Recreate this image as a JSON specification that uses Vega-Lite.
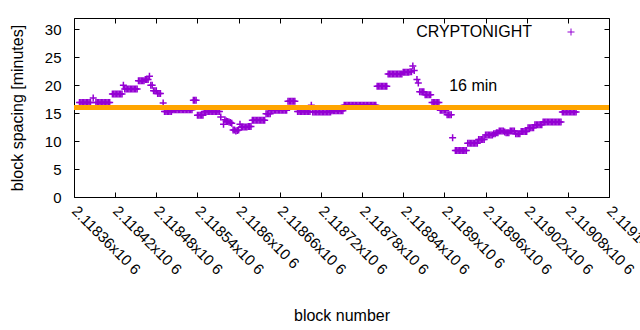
{
 "$schema": "https://vega.github.io/schema/vega-lite/v6.json",
 "width": 535,
 "height": 179,
 "autosize": "none",
 "padding": {"left": 74, "top": 18, "right": 31, "bottom": 133},
 "background": "white",
 "config": {
  "view": {"stroke": "black", "strokeWidth": 1},
  "font": "Liberation Sans",
  "axis": {"labelFontSize": 15, "titleFontSize": 16, "labelColor": "black", "titleColor": "black", "titleFontWeight": "normal", "tickColor": "black", "domain": false, "grid": false, "tickWidth": 1}
 },
 "layer": [
  {
   "data": {"values": [
    {"b":2118368,"s":16.9},{"b":2118370,"s":16.9},{"b":2118372,"s":16.9},{"b":2118374,"s":16.9},{"b":2118376,"s":16.9},{"b":2118378,"s":16.9},{"b":2118380,"s":16.9},{"b":2118382,"s":16.9},{"b":2118384,"s":16.9},
    {"b":2118388,"s":17.7},
    {"b":2118392,"s":16.9},{"b":2118394,"s":16.9},{"b":2118396,"s":16.9},{"b":2118398,"s":16.9},{"b":2118400,"s":16.9},{"b":2118402,"s":16.9},{"b":2118404,"s":16.9},{"b":2118406,"s":16.9},{"b":2118408,"s":16.9},{"b":2118410,"s":16.9},{"b":2118412,"s":16.9},
    {"b":2118416,"s":18.4},{"b":2118418,"s":18.4},{"b":2118420,"s":18.4},{"b":2118422,"s":18.4},{"b":2118424,"s":18.4},{"b":2118426,"s":18.4},{"b":2118428,"s":18.4},{"b":2118430,"s":18.4},
    {"b":2118432,"s":20.0},
    {"b":2118434,"s":19.3},{"b":2118436,"s":19.3},{"b":2118438,"s":19.3},{"b":2118440,"s":19.3},{"b":2118442,"s":19.3},{"b":2118444,"s":19.3},{"b":2118446,"s":19.3},{"b":2118448,"s":19.3},{"b":2118450,"s":19.3},{"b":2118452,"s":19.3},
    {"b":2118454,"s":20.8},{"b":2118456,"s":20.8},{"b":2118458,"s":20.8},{"b":2118460,"s":20.8},{"b":2118462,"s":20.8},
    {"b":2118464,"s":21.0},{"b":2118466,"s":21.0},{"b":2118468,"s":21.0},
    {"b":2118470,"s":21.6},
    {"b":2118472,"s":20.0},{"b":2118474,"s":20.0},
    {"b":2118476,"s":19.0},{"b":2118478,"s":19.0},{"b":2118480,"s":19.0},
    {"b":2118482,"s":18.5},{"b":2118484,"s":18.5},{"b":2118486,"s":18.5},
    {"b":2118490,"s":16.8},
    {"b":2118492,"s":15.3},{"b":2118494,"s":15.3},{"b":2118496,"s":15.3},{"b":2118498,"s":15.3},{"b":2118500,"s":15.3},{"b":2118502,"s":15.3},
    {"b":2118504,"s":15.6},{"b":2118506,"s":15.6},{"b":2118508,"s":15.6},{"b":2118510,"s":15.6},{"b":2118512,"s":15.6},{"b":2118514,"s":15.6},{"b":2118516,"s":15.6},{"b":2118518,"s":15.6},{"b":2118520,"s":15.6},{"b":2118522,"s":15.6},{"b":2118524,"s":15.6},{"b":2118526,"s":15.6},{"b":2118528,"s":15.6},{"b":2118530,"s":15.6},{"b":2118532,"s":15.6},
    {"b":2118534,"s":17.3},{"b":2118536,"s":17.3},{"b":2118538,"s":17.3},
    {"b":2118540,"s":14.6},{"b":2118542,"s":14.6},{"b":2118544,"s":14.6},{"b":2118546,"s":14.6},{"b":2118548,"s":14.6},
    {"b":2118550,"s":15.3},{"b":2118552,"s":15.3},{"b":2118554,"s":15.3},{"b":2118556,"s":15.3},{"b":2118558,"s":15.3},{"b":2118560,"s":15.3},{"b":2118562,"s":15.3},{"b":2118564,"s":15.3},{"b":2118566,"s":15.3},{"b":2118568,"s":15.3},{"b":2118570,"s":15.3},{"b":2118572,"s":15.3},
    {"b":2118574,"s":14.3},
    {"b":2118578,"s":13.0},
    {"b":2118580,"s":13.8},{"b":2118582,"s":13.6},{"b":2118584,"s":13.5},{"b":2118586,"s":13.4},{"b":2118588,"s":13.3},{"b":2118590,"s":13.2},
    {"b":2118592,"s":12.0},{"b":2118594,"s":12.0},{"b":2118596,"s":11.8},{"b":2118598,"s":11.9},{"b":2118600,"s":12.0},
    {"b":2118602,"s":13.0},
    {"b":2118604,"s":12.5},{"b":2118606,"s":12.5},{"b":2118608,"s":12.5},{"b":2118610,"s":12.5},{"b":2118612,"s":12.5},{"b":2118614,"s":12.6},{"b":2118616,"s":12.6},{"b":2118618,"s":12.6},
    {"b":2118620,"s":13.7},{"b":2118622,"s":13.7},{"b":2118624,"s":13.7},{"b":2118626,"s":13.7},{"b":2118628,"s":13.7},{"b":2118630,"s":13.7},{"b":2118632,"s":13.7},{"b":2118634,"s":13.7},{"b":2118636,"s":13.7},{"b":2118638,"s":13.7},
    {"b":2118640,"s":14.9},{"b":2118642,"s":14.9},{"b":2118644,"s":14.9},{"b":2118646,"s":14.9},
    {"b":2118648,"s":15.5},{"b":2118650,"s":15.5},{"b":2118652,"s":15.5},{"b":2118654,"s":15.5},{"b":2118656,"s":15.5},{"b":2118658,"s":15.5},{"b":2118660,"s":15.5},{"b":2118662,"s":15.5},{"b":2118664,"s":15.5},{"b":2118666,"s":15.5},{"b":2118668,"s":15.5},{"b":2118670,"s":15.5},
    {"b":2118672,"s":17.1},{"b":2118674,"s":17.1},{"b":2118676,"s":17.1},{"b":2118678,"s":17.1},{"b":2118680,"s":17.1},{"b":2118682,"s":17.1},
    {"b":2118686,"s":15.3},{"b":2118688,"s":15.3},{"b":2118690,"s":15.3},{"b":2118692,"s":15.3},{"b":2118694,"s":15.3},{"b":2118696,"s":15.3},{"b":2118698,"s":15.3},{"b":2118700,"s":15.3},{"b":2118702,"s":15.3},{"b":2118704,"s":15.3},
    {"b":2118706,"s":16.4},
    {"b":2118708,"s":15.2},{"b":2118710,"s":15.2},{"b":2118712,"s":15.2},{"b":2118714,"s":15.2},{"b":2118716,"s":15.2},{"b":2118718,"s":15.2},{"b":2118720,"s":15.2},{"b":2118722,"s":15.2},{"b":2118724,"s":15.2},{"b":2118726,"s":15.2},{"b":2118728,"s":15.2},{"b":2118730,"s":15.2},{"b":2118732,"s":15.2},{"b":2118734,"s":15.2},
    {"b":2118736,"s":15.4},{"b":2118738,"s":15.4},{"b":2118740,"s":15.4},{"b":2118742,"s":15.4},{"b":2118744,"s":15.4},{"b":2118746,"s":15.4},{"b":2118748,"s":15.4},{"b":2118750,"s":15.4},{"b":2118752,"s":15.4},
    {"b":2118754,"s":16.4},{"b":2118756,"s":16.4},{"b":2118758,"s":16.4},{"b":2118760,"s":16.4},{"b":2118762,"s":16.4},{"b":2118764,"s":16.4},{"b":2118766,"s":16.4},{"b":2118768,"s":16.4},{"b":2118770,"s":16.4},{"b":2118772,"s":16.4},{"b":2118774,"s":16.4},{"b":2118776,"s":16.4},{"b":2118778,"s":16.4},{"b":2118780,"s":16.4},{"b":2118782,"s":16.4},{"b":2118784,"s":16.4},{"b":2118786,"s":16.4},{"b":2118788,"s":16.4},{"b":2118790,"s":16.4},{"b":2118792,"s":16.4},{"b":2118794,"s":16.4},{"b":2118796,"s":16.4},{"b":2118798,"s":16.4},{"b":2118800,"s":16.4},
    {"b":2118802,"s":19.8},{"b":2118804,"s":19.8},{"b":2118806,"s":19.8},{"b":2118808,"s":19.8},{"b":2118810,"s":19.8},{"b":2118812,"s":19.8},{"b":2118814,"s":19.8},{"b":2118816,"s":19.8},
    {"b":2118818,"s":22.0},{"b":2118820,"s":22.0},{"b":2118822,"s":22.0},{"b":2118824,"s":22.0},{"b":2118826,"s":22.0},{"b":2118828,"s":22.0},{"b":2118830,"s":22.0},{"b":2118832,"s":22.0},{"b":2118834,"s":22.0},{"b":2118836,"s":22.0},{"b":2118838,"s":22.0},
    {"b":2118840,"s":22.3},{"b":2118842,"s":22.3},{"b":2118844,"s":22.3},{"b":2118846,"s":22.3},{"b":2118848,"s":22.3},{"b":2118850,"s":22.4},{"b":2118852,"s":22.4},
    {"b":2118854,"s":23.4},
    {"b":2118856,"s":22.6},
    {"b":2118860,"s":21.0},
    {"b":2118862,"s":20.4},
    {"b":2118864,"s":18.8},{"b":2118866,"s":18.8},{"b":2118868,"s":18.8},{"b":2118870,"s":18.8},
    {"b":2118872,"s":18.3},{"b":2118874,"s":18.3},{"b":2118876,"s":18.3},{"b":2118878,"s":18.3},{"b":2118880,"s":18.3},
    {"b":2118882,"s":16.9},{"b":2118884,"s":16.9},{"b":2118886,"s":16.9},{"b":2118888,"s":16.9},{"b":2118890,"s":16.9},{"b":2118892,"s":16.9},
    {"b":2118894,"s":15.5},{"b":2118896,"s":15.5},{"b":2118898,"s":15.5},{"b":2118900,"s":15.5},{"b":2118902,"s":15.5},
    {"b":2118904,"s":14.7},{"b":2118906,"s":14.7},{"b":2118908,"s":14.7},{"b":2118910,"s":14.7},
    {"b":2118912,"s":10.6},
    {"b":2118916,"s":8.3},{"b":2118918,"s":8.3},{"b":2118920,"s":8.3},{"b":2118922,"s":8.3},{"b":2118924,"s":8.3},{"b":2118926,"s":8.3},{"b":2118928,"s":8.3},{"b":2118930,"s":8.3},{"b":2118932,"s":8.3},
    {"b":2118934,"s":9.6},{"b":2118936,"s":9.6},{"b":2118938,"s":9.6},{"b":2118940,"s":9.6},{"b":2118942,"s":9.6},{"b":2118944,"s":9.6},{"b":2118946,"s":9.6},{"b":2118948,"s":9.6},
    {"b":2118950,"s":10.3},{"b":2118952,"s":10.3},{"b":2118954,"s":10.3},{"b":2118956,"s":10.3},{"b":2118958,"s":10.3},
    {"b":2118960,"s":11.1},{"b":2118962,"s":11.1},{"b":2118964,"s":11.1},{"b":2118966,"s":11.1},{"b":2118968,"s":11.1},{"b":2118970,"s":11.1},
    {"b":2118972,"s":11.3},{"b":2118974,"s":11.3},{"b":2118976,"s":11.5},{"b":2118978,"s":11.5},{"b":2118980,"s":11.8},{"b":2118982,"s":11.8},{"b":2118984,"s":11.8},{"b":2118986,"s":11.8},{"b":2118988,"s":11.6},{"b":2118990,"s":11.5},{"b":2118992,"s":11.5},{"b":2118994,"s":11.5},
    {"b":2118996,"s":11.8},{"b":2118998,"s":11.8},{"b":2119000,"s":11.8},{"b":2119002,"s":11.8},{"b":2119004,"s":11.3},{"b":2119006,"s":11.3},{"b":2119008,"s":11.3},{"b":2119010,"s":11.3},{"b":2119012,"s":11.7},{"b":2119014,"s":11.7},{"b":2119016,"s":11.7},{"b":2119018,"s":11.7},{"b":2119020,"s":11.7},
    {"b":2119022,"s":12.4},{"b":2119024,"s":12.4},{"b":2119026,"s":12.4},{"b":2119028,"s":12.4},{"b":2119030,"s":12.4},
    {"b":2119032,"s":12.9},{"b":2119034,"s":12.9},{"b":2119036,"s":12.9},{"b":2119038,"s":12.9},{"b":2119040,"s":12.9},{"b":2119042,"s":12.9},
    {"b":2119044,"s":13.4},{"b":2119046,"s":13.4},{"b":2119048,"s":13.4},{"b":2119050,"s":13.4},{"b":2119052,"s":13.4},{"b":2119054,"s":13.4},{"b":2119056,"s":13.4},{"b":2119058,"s":13.4},{"b":2119060,"s":13.4},{"b":2119062,"s":13.4},{"b":2119064,"s":13.4},{"b":2119066,"s":13.4},{"b":2119068,"s":13.4},{"b":2119070,"s":13.4},
    {"b":2119072,"s":15.2},{"b":2119074,"s":15.2},{"b":2119076,"s":15.2},{"b":2119078,"s":15.2},{"b":2119080,"s":15.2},{"b":2119082,"s":15.2},{"b":2119084,"s":15.2},{"b":2119086,"s":15.2},{"b":2119088,"s":15.2},{"b":2119090,"s":15.2},{"b":2119092,"s":15.2}
   ]},
   "mark": {"type": "point", "shape": "M-1,0H1M0,-1V1", "filled": false, "strokeWidth": 1.5, "size": 49, "opacity": 1},
   "encoding": {
    "x": {"field": "b", "type": "quantitative", "scale": {"domain": [2118360, 2119140], "nice": false, "zero": false},
     "axis": {"orient": "bottom", "values": [2118360,2118420,2118480,2118540,2118600,2118660,2118720,2118780,2118840,2118900,2118960,2119020,2119080,2119140],
      "labelExpr": "format(datum.value/1000000, '.5~f') + 'x10 6'", "labelAngle": 45, "labelAlign": "left", "labelBaseline": "middle",
      "tickSize": -5, "labelPadding": 16, "labelOverlap": false, "labelBound": false, "labelFlush": false,
      "title": "block number", "titleY": 110, "titleBaseline": "top"}},
    "y": {"field": "s", "type": "quantitative", "scale": {"domain": [0, 32], "nice": false},
     "axis": {"orient": "left", "values": [0,5,10,15,20,25,30], "tickSize": -5, "labelPadding": 18,
      "title": "block spacing [minutes]", "titleX": -57, "titleBaseline": "middle"}},
    "color": {"datum": "CRYPTONIGHT", "scale": {"range": ["#9400d3"]},
     "legend": {"orient": "none", "legendX": 489, "legendY": 6, "title": null, "padding": 0, "labelAlign": "right", "labelOffset": -47,
      "labelFontSize": 16, "labelColor": "black", "symbolType": "M-1,0H1M0,-1V1", "symbolSize": 49, "symbolStrokeWidth": 1,
      "symbolFillColor": "transparent", "symbolStrokeColor": "#9400d3"}}
   }
  },
  {
   "data": {"values": [{}]},
   "mark": {"type": "rule", "color": "#ffa500", "strokeWidth": 5},
   "encoding": {"y": {"datum": 16, "type": "quantitative", "axis": null}}
  },
  {
   "data": {"values": [{"b": 2118907, "s": 19.8, "t": "16 min"}]},
   "mark": {"type": "text", "align": "left", "baseline": "middle", "fontSize": 16, "color": "black"},
   "encoding": {
    "x": {"field": "b", "type": "quantitative",
     "axis": {"orient": "top", "values": [2118360,2118420,2118480,2118540,2118600,2118660,2118720,2118780,2118840,2118900,2118960,2119020,2119080,2119140], "labels": false, "tickSize": -5, "title": null}},
    "y": {"field": "s", "type": "quantitative",
     "axis": {"orient": "right", "values": [0,5,10,15,20,25,30], "labels": false, "tickSize": -5, "title": null}},
    "text": {"field": "t"}
   }
  }
 ],
 "resolve": {"axis": {"x": "independent", "y": "independent"}}
}
